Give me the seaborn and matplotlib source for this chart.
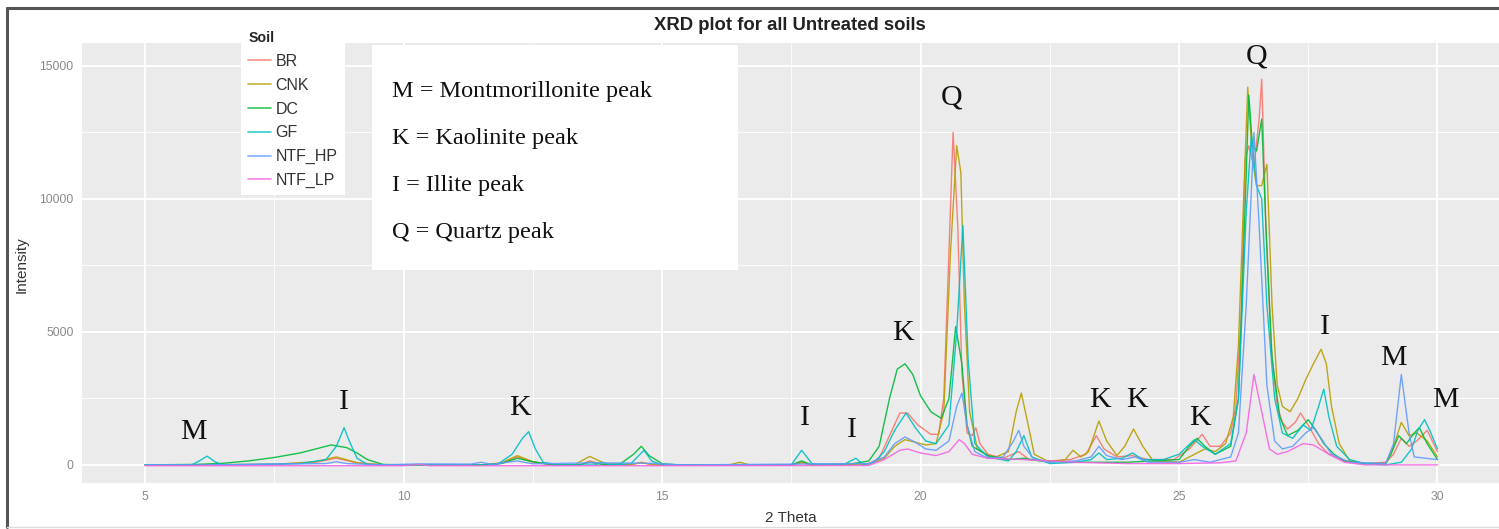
import matplotlib
matplotlib.use("Agg")
import matplotlib.pyplot as plt
import numpy as np
import pandas as pd
import seaborn as sns
from matplotlib.patches import Rectangle
from matplotlib.lines import Line2D
from matplotlib.ticker import MultipleLocator

# ---------------- data ----------------
soils = ["BR", "CNK", "DC", "GF", "NTF_HP", "NTF_LP"]
soil_colors = ["#F8766D", "#B79F00", "#00BA38", "#00BFC4", "#619CFF", "#F564E3"]

br_theta = [5.0, 6.0, 7.5, 8.3, 8.7, 9.1, 9.6, 11.5, 11.9, 12.2, 12.5, 12.9, 13.4, 13.6, 13.9, 14.4, 14.6, 14.8,
            17.5, 17.7, 17.9, 19.0, 19.2, 19.4, 19.6, 19.75, 19.95, 20.2, 20.35, 20.45, 20.55, 20.63, 20.72, 20.8,
            20.9, 21.0, 21.07, 21.15, 21.3, 21.6, 21.9, 22.1, 22.5, 22.9, 23.2, 23.4, 23.55, 23.8, 24.1, 24.4, 24.9,
            25.2, 25.45, 25.6, 25.8, 26.0, 26.1, 26.2, 26.28, 26.35, 26.45, 26.55, 26.6, 26.68, 26.78, 26.9, 27.0,
            27.1, 27.25, 27.35, 27.5, 27.7, 27.9, 28.2, 28.6, 29.0, 29.15, 29.3, 29.45, 29.6, 29.8, 29.9, 30.0]
br_int = [0, 0, 20, 100, 250, 80, 0, 0, 50, 300, 100, 0, 0, 150, 0, 0, 100, 0,
          0, 80, 0, 50, 250, 1100, 1950, 1950, 1500, 1150, 1150, 2500, 8000, 12500, 9000, 3500,
          1200, 1100, 1400, 800, 400, 250, 500, 200, 150, 200, 400, 1100, 600, 300, 350, 200, 200,
          600, 1150, 700, 700, 1200, 2200, 5500, 11500, 12000, 11200, 13000, 14500, 9000, 4500, 2200, 1600,
          1350, 1600, 1950, 1500, 800, 400, 150, 50, 100, 400, 1000, 700, 900, 1300, 900, 500]

cnk_theta = [5.0, 7.5, 8.3, 8.7, 9.1, 9.6, 11.5, 11.9, 12.2, 12.5, 12.9, 13.3, 13.6, 13.9, 14.3, 14.6, 14.9,
             16.3, 16.5, 16.7, 17.5, 17.7, 17.9, 19.0, 19.3, 19.5, 19.7, 19.9, 20.1, 20.3, 20.45, 20.58, 20.7,
             20.78, 20.85, 20.95, 21.1, 21.4, 21.7, 21.85, 21.95, 22.05, 22.2, 22.5, 22.8, 22.95, 23.1, 23.25,
             23.45, 23.6, 23.8, 23.95, 24.12, 24.3, 24.5, 25.0, 25.3, 25.5, 25.7, 25.9, 26.05, 26.15, 26.25,
             26.33, 26.42, 26.5, 26.6, 26.7, 26.8, 26.9, 27.0, 27.15, 27.3, 27.45, 27.6, 27.75, 27.85, 27.95,
             28.1, 28.3, 28.6, 29.0, 29.15, 29.3, 29.45, 29.6, 29.8, 30.0]
cnk_int = [0, 20, 120, 300, 80, 0, 0, 80, 350, 120, 0, 0, 320, 50, 0, 80, 0,
           0, 100, 0, 0, 100, 0, 30, 250, 700, 950, 850, 750, 800, 2000, 8000, 12000,
           11000, 6000, 2000, 600, 250, 500, 2000, 2700, 1800, 400, 100, 200, 550, 300, 500,
           1650, 900, 350, 700, 1350, 700, 150, 100, 400, 600, 500, 800, 1800, 4500, 10000,
           14200, 11500, 10500, 10500, 11300, 6000, 3000, 2200, 2000, 2500, 3200, 3800, 4350, 3800, 2200,
           800, 150, 50, 50, 700, 1600, 1100, 1200, 900, 300]

dc_theta = [5.0, 6.0, 6.5, 7.0, 7.5, 8.0, 8.4, 8.6, 8.9, 9.1, 9.3, 9.6, 10.0, 11.5, 11.9, 12.2, 12.5, 12.9,
            13.4, 13.6, 13.9, 14.2, 14.45, 14.6, 14.75, 15.0, 15.3, 17.5, 17.7, 17.9, 18.7, 19.0, 19.2, 19.4,
            19.55, 19.7, 19.85, 20.0, 20.2, 20.4, 20.55, 20.68, 20.8, 20.9, 21.0, 21.3, 21.7, 22.0, 22.3, 23.0,
            24.0, 25.0, 25.2, 25.35, 25.5, 25.7, 26.0, 26.15, 26.25, 26.35, 26.42, 26.5, 26.6, 26.68, 26.8,
            26.95, 27.1, 27.3, 27.5, 27.65, 27.8, 28.0, 28.2, 28.6, 29.0, 29.1, 29.25, 29.4, 29.55, 29.65,
            29.8, 30.0]
dc_int = [0, 20, 60, 150, 280, 450, 650, 750, 650, 450, 200, 20, 0, 0, 60, 250, 120, 0,
          0, 100, 0, 50, 400, 700, 350, 50, 0, 0, 150, 0, 50, 150, 700, 2500,
          3600, 3800, 3400, 2600, 2000, 1750, 2500, 5200, 3800, 1500, 700, 350, 200, 250, 150, 100,
          100, 200, 700, 1000, 700, 400, 700, 2500, 8000, 13900, 12000, 11800, 13000, 9000, 4000,
          1800, 1100, 1300, 1700, 1300, 800, 400, 150, 50, 50, 400, 1100, 800, 1200, 1400,
          800, 200]

gf_theta = [5.0, 5.9, 6.05, 6.2, 6.35, 6.5, 8.0, 8.5, 8.7, 8.85, 8.95, 9.1, 9.3, 9.6, 11.8, 12.1, 12.3, 12.42,
            12.55, 12.7, 13.0, 13.7, 13.85, 14.0, 14.4, 14.65, 14.8, 15.0, 17.5, 17.7, 17.9, 18.5, 18.75, 18.9,
            19.1, 19.3, 19.5, 19.72, 19.9, 20.1, 20.3, 20.55, 20.7, 20.82, 20.92, 21.05, 21.3, 21.7, 21.85,
            22.0, 22.15, 22.5, 23.0, 23.3, 23.45, 23.6, 23.9, 24.1, 24.3, 24.7, 25.0, 25.3, 25.45, 25.7, 26.0,
            26.15, 26.3, 26.4, 26.5, 26.6, 26.7, 26.85, 27.0, 27.2, 27.4, 27.55, 27.7, 27.8, 27.9, 28.05, 28.3,
            28.6, 29.0, 29.3, 29.5, 29.62, 29.75, 29.85, 30.0]
gf_int = [0, 0, 150, 330, 120, 0, 50, 200, 700, 1400, 900, 250, 20, 0, 0, 400, 1000, 1250,
          600, 100, 0, 0, 100, 0, 50, 550, 150, 0, 0, 550, 50, 0, 250, 0,
          100, 500, 1300, 1950, 1400, 900, 800, 1500, 5000, 9000, 4000, 800, 300, 150, 500,
          1100, 300, 50, 100, 200, 450, 200, 250, 450, 200, 200, 400, 950, 700, 400, 800,
          2500, 9500, 12400, 10500, 10000, 6000, 2500, 1200, 1000, 1500, 1300, 2200, 2850, 1800, 700, 200,
          50, 0, 100, 600, 1300, 1700, 1300, 600]

hp_theta = [5.0, 6.0, 8.5, 8.7, 8.9, 9.6, 10.3, 11.3, 11.5, 11.7, 12.2, 12.5, 13.7, 14.8, 15.4, 19.0, 19.3,
            19.5, 19.7, 19.9, 20.1, 20.3, 20.55, 20.7, 20.8, 20.9, 21.05, 21.3, 21.6, 21.8, 21.9, 22.0, 22.2,
            22.5, 23.0, 23.3, 23.45, 23.6, 23.9, 24.15, 24.4, 25.0, 25.3, 25.6, 26.0, 26.15, 26.3, 26.45,
            26.55, 26.7, 26.85, 27.0, 27.2, 27.45, 27.6, 27.75, 27.95, 28.3, 29.0, 29.15, 29.3, 29.45, 29.55,
            30.0]
hp_int = [0, 0, 50, 120, 50, 0, 40, 30, 100, 20, 150, 40, 80, 60, 0, 50, 300,
          800, 1050, 850, 600, 550, 900, 2200, 2700, 1500, 500, 250, 300, 900, 1300, 700, 200,
          100, 150, 300, 700, 350, 200, 300, 100, 100, 200, 100, 300, 1200, 6000, 12500,
          9000, 3000, 900, 600, 700, 1200, 1400, 1000, 400, 100, 50, 800, 3400, 1200, 300,
          200]

lp_theta = [5.0, 10.0, 10.3, 10.5, 15.0, 19.0, 19.3, 19.6, 19.75, 20.0, 20.3, 20.55, 20.75, 20.85, 21.0,
            21.3, 22.0, 23.0, 24.0, 25.0, 25.8, 26.1, 26.3, 26.45, 26.6, 26.75, 26.9, 27.1, 27.4, 27.6,
            27.9, 28.2, 28.6, 30.0]
lp_int = [-30, -30, 20, -30, -30, -20, 200, 550, 600, 450, 350, 500, 950, 800, 400,
          250, 200, 100, 50, 50, 80, 150, 1200, 3400, 2000, 600, 400, 500, 800, 750,
          400, 100, 0, 0]

peak_letters = ["M", "I", "K", "I", "I", "K", "Q", "K", "K", "K", "Q", "I", "M", "M"]
peak_theta = [5.93, 8.85, 12.25, 17.77, 18.68, 19.66, 20.61, 23.47, 24.19, 25.41, 26.51, 27.82, 29.14, 30.15]
peak_int = [1240, 2370, 2140, 1770, 1320, 4960, 13800, 2440, 2440, 1770, 15340, 5190, 4020, 2440]

key_lines = ["M = Montmorillonite peak", "K = Kaolinite peak", "I = Illite peak", "Q = Quartz peak"]

x_ticks = [5, 10, 15, 20, 25, 30]
y_ticks = [0, 5000, 10000, 15000]

# ---------------- build long table ----------------
series = [("BR", br_theta, br_int), ("CNK", cnk_theta, cnk_int), ("DC", dc_theta, dc_int),
          ("GF", gf_theta, gf_int), ("NTF_HP", hp_theta, hp_int), ("NTF_LP", lp_theta, lp_int)]
df = pd.concat([pd.DataFrame({"2 Theta": th, "Intensity": it, "Soil": nm}) for nm, th, it in series],
               ignore_index=True)

# ---------------- figure ----------------
sns.set_theme(style="darkgrid")
plt.rcParams["font.family"] = ["Liberation Sans", "DejaVu Sans"]

W, H = 1499, 529
fig = plt.figure(figsize=(W / 100, H / 100), dpi=100)
fig.patch.set_facecolor("white")
ax = fig.add_axes([82 / W, (H - 483) / H, (W - 82) / W, 440 / H])
ax.set_facecolor("#EBEBEB")

sns.lineplot(data=df, x="2 Theta", y="Intensity", hue="Soil", hue_order=soils,
             palette=soil_colors, estimator=None, linewidth=1.0, alpha=0.9, ax=ax)

ax.set_xlim(3.78, 31.19)
ax.set_ylim(-680, 15860)
ax.set_xticks(x_ticks)
ax.set_yticks(y_ticks)
ax.set_xticklabels([str(v) for v in x_ticks])
ax.set_yticklabels([str(v) for v in y_ticks])
ax.xaxis.set_minor_locator(MultipleLocator(2.5))
ax.yaxis.set_minor_locator(MultipleLocator(2500))
ax.grid(which="major", color="white", linewidth=1.3)
ax.grid(which="minor", color="white", linewidth=0.6)
ax.tick_params(which="major", length=3.5, width=0.8, color="#8a8a8a", labelcolor="#8a8a8a",
               labelsize=8.8, pad=2.5)
ax.tick_params(which="minor", length=0)
for s in ax.spines.values():
    s.set_visible(False)
ax.set_xlabel("")
ax.set_ylabel("")

fig.text(791 / W, 1 - 518 / H, "2 Theta", ha="center", va="center", fontsize=11, color="#333333")
fig.text(22 / W, 1 - 265 / H, "Intensity", ha="center", va="center", rotation=90, fontsize=11,
         color="#333333")
fig.text(790 / W, 1 - 25 / H, "XRD plot for all Untreated soils", ha="center", va="center",
         fontsize=13.3, fontweight="bold", color="#222222")

# legend
handles, labels = ax.get_legend_handles_labels()
if ax.get_legend() is not None:
    ax.get_legend().remove()
leg = fig.legend(handles, labels, title="Soil", loc="upper left",
                 bbox_to_anchor=(241 / W, 1 - 24 / H), frameon=True, fancybox=False,
                 facecolor="white", edgecolor="none", framealpha=1, fontsize=11.5,
                 title_fontproperties={"weight": "bold", "size": 10.2},
                 handlelength=1.4, handletextpad=0.3, labelspacing=0.55, borderpad=0.45,
                 borderaxespad=0)
leg._legend_box.align = "left"
for ln in leg.get_lines():
    ln.set_linewidth(1.2)
    ln.set_alpha(0.8)
for t in leg.get_texts():
    t.set_color("#333333")

# peak key box
fig.add_artist(Rectangle((372 / W, 1 - 270 / H), 366 / W, 225 / H, transform=fig.transFigure,
                         facecolor="white", edgecolor="none", zorder=5))
for i, txt in enumerate(key_lines):
    fig.text(392 / W, 1 - (92 + 46.7 * i) / H, txt, ha="left", va="center",
             family="Liberation Serif", fontsize=17.5, color="#111111", zorder=6)

# peak labels
for lt, px, py in zip(peak_letters, peak_theta, peak_int):
    ax.text(px, py, lt, ha="center", va="center", family="Liberation Serif", fontsize=21.5,
            color="#111111", zorder=4)

# outer frame of the screenshot
fig.add_artist(Line2D([7 / W, 7 / W], [1 - 8 / H, 2 / H], transform=fig.transFigure,
                      color="#555555", linewidth=2.2))
fig.add_artist(Line2D([7 / W, 1], [1 - 8 / H, 1 - 8 / H], transform=fig.transFigure,
                      color="#555555", linewidth=2.2))
fig.add_artist(Line2D([7 / W, 1], [2 / H, 2 / H], transform=fig.transFigure,
                      color="#dddddd", linewidth=1.0))

fig.savefig("out.png", dpi=100, facecolor="white")
